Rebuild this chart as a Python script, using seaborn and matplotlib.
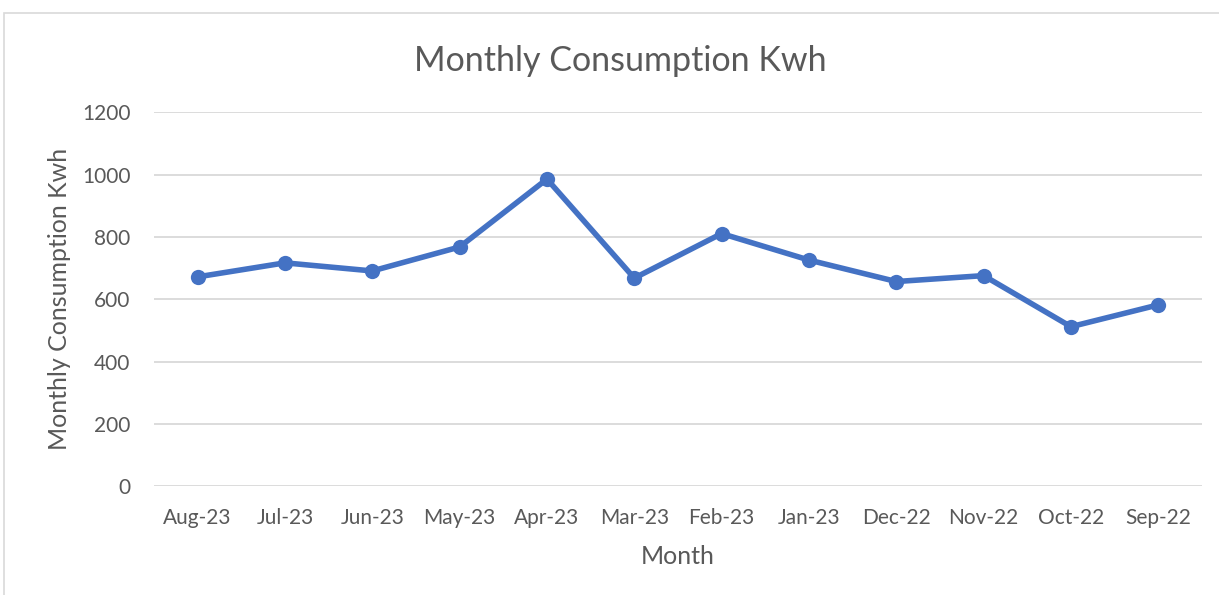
import pandas as pd
import matplotlib.pyplot as plt
import seaborn as sns
from matplotlib.patches import Rectangle

months = ['Aug-23', 'Jul-23', 'Jun-23', 'May-23', 'Apr-23', 'Mar-23',
          'Feb-23', 'Jan-23', 'Dec-22', 'Nov-22', 'Oct-22', 'Sep-22']
kwh = [672, 717, 691, 768, 986, 668, 811, 726, 657, 676, 512, 582]
y_ticks = [0, 200, 400, 600, 800, 1000, 1200]

df = pd.DataFrame({'Month': months, 'kwh': kwh})
df['pos'] = range(len(months))

sns.set_theme(style="white")
plt.rcParams['font.family'] = ['Lato', 'DejaVu Sans']
text_col = '#595959'

fig = plt.figure(figsize=(12.19, 5.95), dpi=100)
ax = fig.add_axes([0.1263, 0.183, 0.8597, 0.628])

sns.lineplot(data=df, x='pos', y='kwh', ax=ax, color='#4472C4', linewidth=4,
             marker='o', markersize=11, markeredgewidth=0, sort=False)

ax.set_xlim(-0.5, len(months) - 0.5)
ax.set_ylim(0, 1200)
ax.set_yticks(y_ticks)
ax.set_xticks(df['pos'])
ax.set_xticklabels(months)
ax.yaxis.grid(True, color='#d9d9d9', linewidth=1.3)
ax.set_axisbelow(True)
for s in ['top', 'right', 'left', 'bottom']:
    ax.spines[s].set_visible(False)
ax.tick_params(axis='both', length=0, labelsize=15, colors=text_col)
ax.tick_params(axis='y', pad=17)
ax.tick_params(axis='x', pad=16)

ax.set_xlabel('Month', fontsize=18, color=text_col, labelpad=12)
ax.set_ylabel('Monthly Consumption Kwh', fontsize=18, color=text_col, labelpad=8)
fig.text(0.509, 0.897, 'Monthly Consumption Kwh', ha='center', va='center',
         fontsize=24.5, color=text_col)

fig.patches.append(Rectangle((0.003, -0.01), 1.0, 0.988, transform=fig.transFigure,
                             fill=False, edgecolor='#d9d9d9', linewidth=1.2))

fig.savefig('out.png', dpi=100)
